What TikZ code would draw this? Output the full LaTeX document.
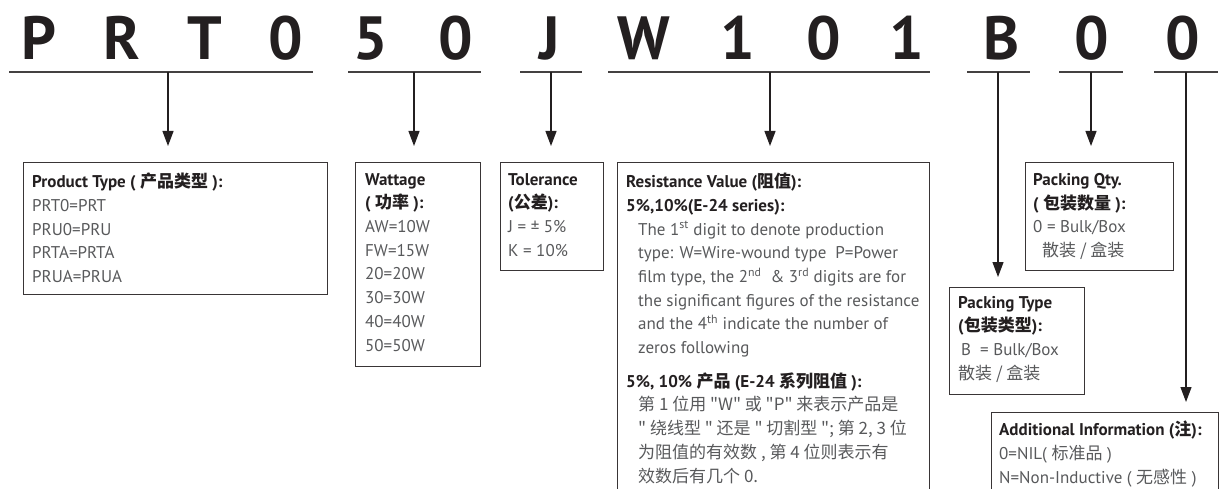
\documentclass[tikz,border=0pt]{standalone}
\usepackage{fontspec}
\setmainfont{PT Sans}
\newfontfamily\cjk{Noto Sans CJK SC}
\usetikzlibrary{arrows.meta,positioning}
\definecolor{ink}{HTML}{231F20}
\definecolor{body}{HTML}{58595B}
\newcommand{\zh}[1]{{\cjk #1}}

\begin{document}
\begin{tikzpicture}
[x=1pt,y=-1pt,
digit/.style={font=\fontsize{61}{61}\selectfont\bfseries,text=ink,inner sep=0pt,anchor=base},
bar/.style={line width=1.8pt,draw=ink!85},
arr/.style={line width=1.2pt,draw=ink,-{Triangle[length=15pt,width=11pt]}},
box/.style={draw=ink!90,line width=1.1pt,anchor=north west,inner sep=0pt},
txt/.style={anchor=north west,align=left,inner sep=0pt,text=body,font=\fontsize{17}{23.7}\selectfont,
execute at begin node={\rule{0pt}{15pt}}}]
\useasboundingbox (0,0) rectangle (1220,489);
\clip (0,0) rectangle (1220,489);
% part number
\foreach \ch/\xx [count=\i] in {P/39,R/122,T/205,0/286,5/371,0/456,J/550,W/644,1/738,0/824,1/907,B/1002,0/1092,0/1183}
\node[digit] (c\i) at (\xx,60) {\ch};
\foreach \a/\b/\m [count=\n] in {9/313/168,348/481/414,520/582/551,608/930/770,967/1030/998,1059/1123/1091,1154/1218/1186}
{\draw[bar] (\a,72) -- (\b,72);
\coordinate (u\n) at (\m,72);}
% boxes
\node[box,minimum width=304pt,minimum height=132pt] (ptype) at (23,162) {};
\node[box,minimum width=125pt,minimum height=204pt] (watt) at (355,162) {};
\node[box,minimum width=103pt,minimum height=108pt] (tol) at (500,162) {};
\node[box,minimum width=312pt,minimum height=336pt] (resv) at (617,162) {};
\node[box,minimum width=148pt,minimum height=108pt] (qty) at (1025,162) {};
\node[box,minimum width=135pt,minimum height=107pt] (pack) at (949,287) {};
\node[box,minimum width=227pt,minimum height=90pt] (addi) at (991,412) {};
% texts
\node[txt] (ptypetxt) at ([xshift=9pt,yshift=-11pt]ptype.north west)
{\textcolor{ink}{\bfseries Product Type ( \zh{产品类型} ):}\\PRT0=PRT\\PRU0=PRU\\PRTA=PRTA\\PRUA=PRUA};
\node[txt] (watttxt) at ([xshift=10pt,yshift=-11pt]watt.north west)
{\textcolor{ink}{\bfseries Wattage}\\\textcolor{ink}{\bfseries ( \zh{功率} ):}\\AW=10W\\FW=15W\\20=20W\\30=30W\\40=40W\\50=50W};
\node[txt] (toltxt) at ([xshift=8pt,yshift=-11pt]tol.north west)
{\textcolor{ink}{\bfseries Tolerance}\\\textcolor{ink}{\bfseries (\zh{公差}):}\\J = ± 5\%\\K = 10\%};
\node[txt] (resvtxt) at ([xshift=9pt,yshift=-11pt]resv.north west)
{\textcolor{ink}{\bfseries Resistance Value (\zh{阻值}):}\\
\textcolor{ink}{\bfseries 5\%,10\%(E-24 series):}\\
\hspace*{12pt}The 1\textsuperscript{st} digit to denote production\\
\hspace*{12pt}type: W=Wire-wound type~ P=Power\\
\hspace*{12pt}film type, the 2\textsuperscript{nd}~ \& 3\textsuperscript{rd} digits are for\\
\hspace*{12pt}the significant figures of the resistance\\
\hspace*{12pt}and the 4\textsuperscript{th} indicate the number of\\
\hspace*{12pt}zeros following\\[10pt]
\textcolor{ink}{\bfseries 5\%, 10\% \zh{产品} (E-24 \zh{系列阻值} ):}\\
\hspace*{12pt}\zh{第 1 位用 "W" 或 "P" 来表示产品是}\\
\hspace*{12pt}\zh{" 绕线型 " 还是 " 切割型 "; 第 2, 3 位}\\
\hspace*{12pt}\zh{为阻值的有效数 , 第 4 位则表示有}\\
\hspace*{12pt}\zh{效数后有几个 0.}};
\node[txt] (qtytxt) at ([xshift=8pt,yshift=-11pt]qty.north west)
{\textcolor{ink}{\bfseries Packing Qty.}\\\textcolor{ink}{\bfseries ( \zh{包装数量} ):}\\0 = Bulk/Box\\\hspace*{9pt}\zh{散装 / 盒装}};
\node[txt] (packtxt) at ([xshift=9pt,yshift=-9pt]pack.north west)
{\textcolor{ink}{\bfseries Packing Type}\\\textcolor{ink}{\bfseries (\zh{包装类型}):}\\\hspace*{3pt}B~ = Bulk/Box\\\zh{散装 / 盒装}};
\node[txt] (additxt) at ([xshift=8pt,yshift=-9pt]addi.north west)
{\textcolor{ink}{\bfseries Additional Information (\zh{注}):}\\0=NIL( \zh{标准品} )\\N=Non-Inductive ( \zh{无感性} )};
% arrows
\draw[arr,shorten >=16pt] (u1) -- (u1 |- ptype.north);
\draw[arr,shorten >=16pt] (u2) -- (u2 |- watt.north);
\draw[arr,shorten >=16pt] (u3) -- (u3 |- tol.north);
\draw[arr,shorten >=16pt] (u4) -- (u4 |- resv.north);
\draw[arr,shorten >=10pt] (u5) -- (u5 |- pack.north);
\draw[arr,shorten >=16pt] (u6) -- (u6 |- qty.north);
\draw[arr,shorten >=10pt] (u7) -- (u7 |- addi.north);
\end{tikzpicture}
\end{document}
